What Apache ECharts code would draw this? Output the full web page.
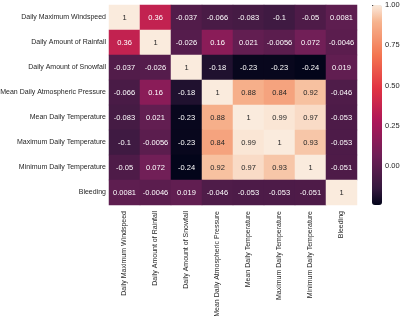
<!DOCTYPE html>
<html>
<head>
<meta charset="utf-8">
<script src="https://cdn.jsdelivr.net/npm/echarts@6/dist/echarts.min.js"></script>
<style>
html,body{margin:0;padding:0;background:#fff}
#chart{width:400px;height:316px}
</style>
</head>
<body>
<div id="chart"></div>
<script>
// variables, same order on both axes
var labels = [
	'Daily Maximum Windspeed',
	'Daily Amount of Rainfall',
	'Daily Amount of Snowfall',
	'Mean Daily Atmospheric Pressure',
	'Mean Daily Temperature',
	'Maximum Daily Temperature',
	'Minimum Daily Temperature',
	'Bleeding'
]
var row0 = [1, 0.36, -0.037, -0.066, -0.083, -0.1, -0.05, 0.0081]
var row1 = [0.36, 1, -0.026, 0.16, 0.021, -0.0056, 0.072, -0.0046]
var row2 = [-0.037, -0.026, 1, -0.18, -0.23, -0.23, -0.24, 0.019]
var row3 = [-0.066, 0.16, -0.18, 1, 0.88, 0.84, 0.92, -0.046]
var row4 = [-0.083, 0.021, -0.23, 0.88, 1, 0.99, 0.97, -0.053]
var row5 = [-0.1, -0.0056, -0.23, 0.84, 0.99, 1, 0.93, -0.053]
var row6 = [-0.05, 0.072, -0.24, 0.92, 0.97, 0.93, 1, -0.051]
var row7 = [0.0081, -0.0046, 0.019, -0.046, -0.053, -0.053, -0.051, 1]
var colorTicks = [0, 0.25, 0.5, 0.75, 1]

var rows = [row0, row1, row2, row3, row4, row5, row6, row7]
var vmin = -0.24, vmax = 1

// seaborn "rocket" keyed at its positions, resampled evenly for visualMap
var rocketStops = [
	[0, '#03051a'], [0.083, '#35193e'], [0.25, '#701f57'], [0.417, '#ad1759'],
	[0.583, '#e13342'], [0.75, '#f37651'], [0.917, '#f6b48f'], [1, '#faebdd']
]
function hex(c) { return [1, 3, 5].map(function (k) { return parseInt(c.substr(k, 2), 16) }) }
function sample(t) {
	for (var k = 1; k < rocketStops.length; k++) {
		if (t <= rocketStops[k][0]) {
			var a = rocketStops[k - 1], b = rocketStops[k]
			var f = (t - a[0]) / (b[0] - a[0])
			var ca = hex(a[1]), cb = hex(b[1])
			return 'rgb(' + ca.map(function (x, i) { return Math.round(x + (cb[i] - x) * f) }).join(',') + ')'
		}
	}
	return rocketStops[rocketStops.length - 1][1]
}
var rocket = []
for (var s = 0; s <= 48; s++) rocket.push(sample(s / 48))

var data = []
rows.forEach(function (r, i) {
	r.forEach(function (v, j) {
		data.push({
			value: [j, i, v],
			label: { color: v > 0.6 ? '#262626' : '#ffffff' }
		})
	})
})

var font = 'Liberation Sans, Arial, sans-serif'
var myChart = echarts.init(document.getElementById('chart'))
var option = {
	animation: false,
	grid: [
		{ left: 109, top: 5, width: 248, height: 200, outerBoundsMode: 'none' },
		{ left: 372, top: 5, width: 10, height: 200, outerBoundsMode: 'none' }
	],
	xAxis: [
		{
			type: 'category', data: labels, gridIndex: 0,
			axisLine: { show: false }, axisTick: { show: false },
			splitArea: { show: false },
			axisLabel: { rotate: 90, fontSize: 7, color: '#262626', fontFamily: font, margin: 6 }
		},
		{ type: 'value', gridIndex: 1, show: false }
	],
	yAxis: [
		{
			type: 'category', data: labels, inverse: true, gridIndex: 0,
			axisLine: { show: false }, axisTick: { show: false },
			axisLabel: { fontSize: 7, color: '#262626', fontFamily: font, margin: 3 }
		},
		{
			type: 'value', gridIndex: 1, min: vmin, max: vmax, position: 'right',
			axisLine: { show: false }, splitLine: { show: false },
			axisTick: { show: true, length: 3, customValues: colorTicks, lineStyle: { color: '#262626' } },
			axisLabel: {
				fontSize: 7.5, color: '#262626', fontFamily: font, margin: 3,
				customValues: colorTicks,
				formatter: function (v) { return v.toFixed(2) }
			}
		}
	],
	visualMap: {
		type: 'continuous', min: vmin, max: vmax, seriesIndex: 0,
		calculable: false, realtime: false, showLabel: false, text: null,
		orient: 'vertical', left: 372, top: 5, padding: 0, itemWidth: 10, itemHeight: 200,
		inRange: { color: rocket }
	},
	series: [
		{
			type: 'heatmap', xAxisIndex: 0, yAxisIndex: 0, data: data,
			label: {
				show: true, fontSize: 7.5, fontFamily: font,
				formatter: function (p) { return String(p.value[2]) }
			},
			itemStyle: { borderWidth: 0 }
		}
	]
}
myChart.setOption(option)
</script>
</body>
</html>
